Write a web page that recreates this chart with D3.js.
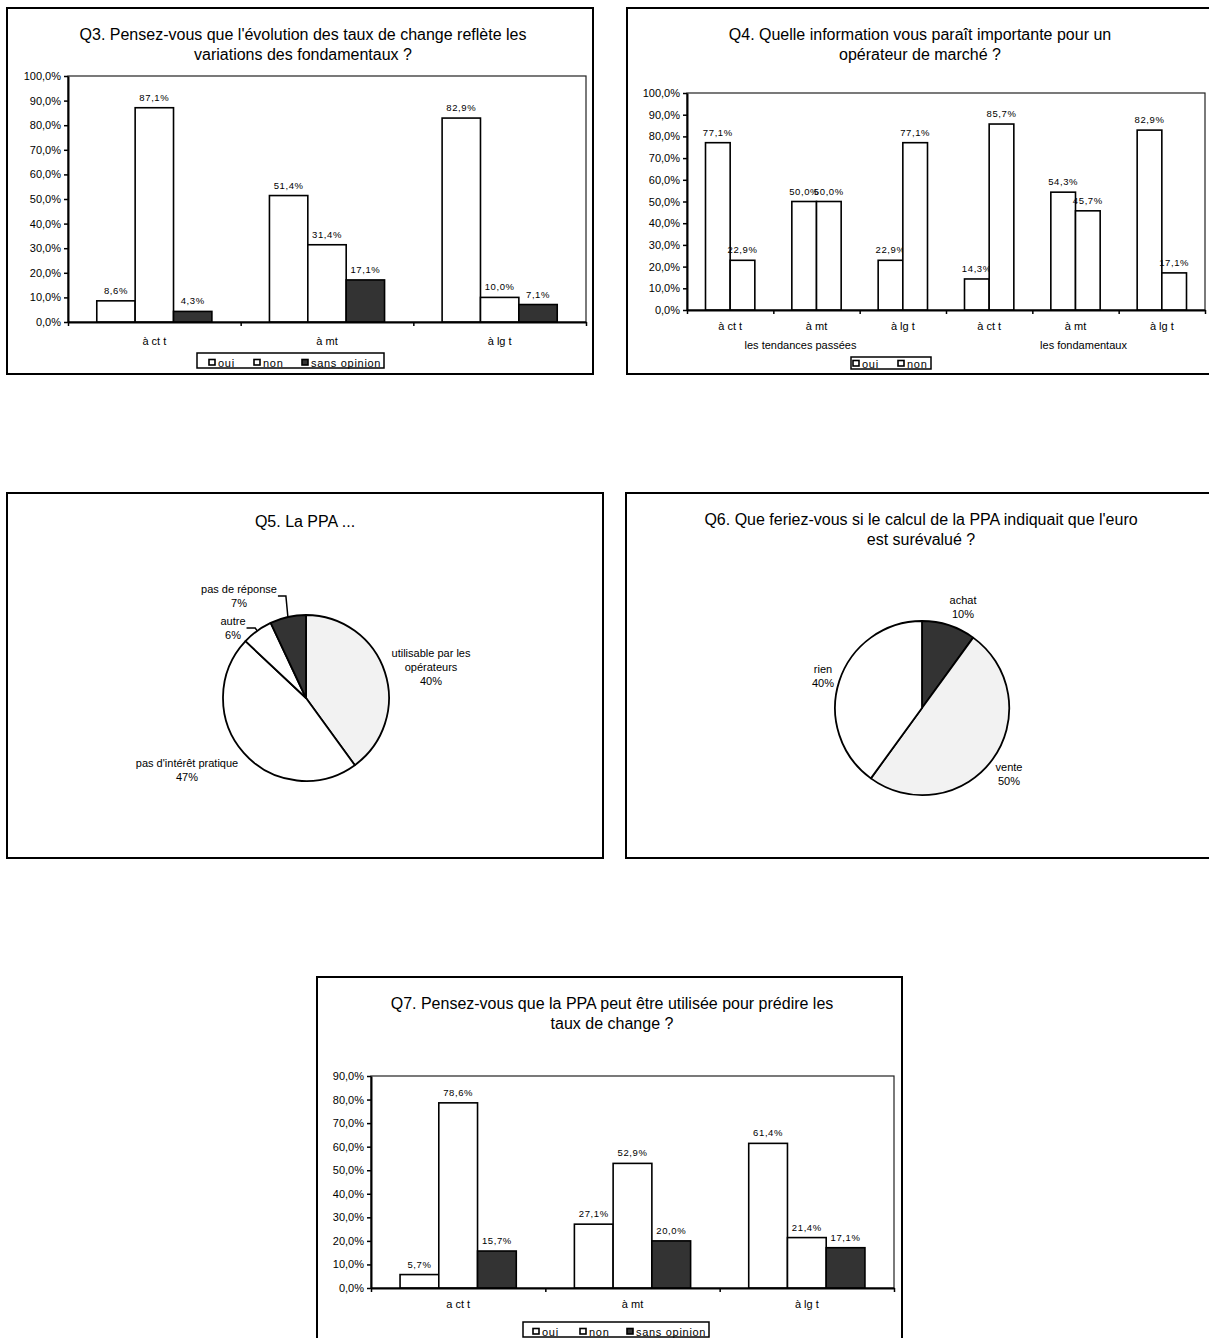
<!DOCTYPE html>
<html>
<head>
<meta charset="utf-8">
<script src="https://cdn.jsdelivr.net/npm/d3@7"></script>
<style>
    body { margin: 0; background: #fff; }
    svg text { font-family: "Liberation Sans", Arial, sans-serif; fill: #000; }
</style>
</head>
<body>
<div id="page"></div>
<script>
// ---------- data ----------
let q3Title = ["Q3. Pensez-vous que l'évolution des taux de change reflète les", "variations des fondamentaux ?"];
let q3Categories = ["à ct t", "à mt", "à lg t"];
let q3Oui = [8.6, 51.4, 82.9];
let q3Non = [87.1, 31.4, 10.0];
let q3Sans = [4.3, 17.1, 7.1];
let q3Ticks = [0, 10, 20, 30, 40, 50, 60, 70, 80, 90, 100];

let q4Title = ["Q4. Quelle information vous paraît importante pour un", "opérateur de marché ?"];
let q4Categories = ["à ct t", "à mt", "à lg t", "à ct t", "à mt", "à lg t"];
let q4Groups = ["les tendances passées", "les fondamentaux"];
let q4Oui = [77.1, 50.0, 22.9, 14.3, 54.3, 82.9];
let q4Non = [22.9, 50.0, 77.1, 85.7, 45.7, 17.1];
let q4Ticks = [0, 10, 20, 30, 40, 50, 60, 70, 80, 90, 100];

let q5Title = ["Q5. La PPA ..."];
let q5Labels = ["utilisable par les\nopérateurs", "pas d'intérêt pratique", "autre", "pas de réponse"];
let q5Values = [40, 47, 6, 7];

let q6Title = ["Q6. Que feriez-vous si le calcul de la PPA indiquait que l'euro", "est surévalué ?"];
let q6Labels = ["achat", "vente", "rien"];
let q6Values = [10, 50, 40];

let q7Title = ["Q7. Pensez-vous que la PPA peut être utilisée pour prédire les", "taux de change ?"];
let q7Categories = ["a ct t", "à mt", "à lg t"];
let q7Oui = [5.7, 27.1, 61.4];
let q7Non = [78.6, 52.9, 21.4];
let q7Sans = [15.7, 20.0, 17.1];
let q7Ticks = [0, 10, 20, 30, 40, 50, 60, 70, 80, 90];

// ---------- styles ----------
let white = "#ffffff";
let light = "#f2f2f2";
let dark = "#333333";

let fr = d3.formatLocale({decimal: ",", thousands: " ", grouping: [3], currency: ["", " €"]});
let pct = d => fr.format(".1f")(d) + "%";

let svg = d3.select("#page")
    .append("svg")
    .attr("width", 1209)
    .attr("height", 1338);

function frameAndTitle(g, c) {
    g.append("rect")
        .attr("x", c.frame.x)
        .attr("y", c.frame.y)
        .attr("width", c.frame.w)
        .attr("height", c.frame.h)
        .attr("fill", "#fff")
        .attr("stroke", "#000")
        .attr("stroke-width", 2);

    c.title.forEach((t, i) => {
        g.append("text")
            .attr("x", c.titleX)
            .attr("y", c.titleY + i * 19.5)
            .attr("text-anchor", "middle")
            .style("font-size", "16px")
            .text(t);
    });
}

function drawBars(c) {
    let g = svg.append("g");
    frameAndTitle(g, c);

    let p = c.plot;
    let n = c.categories.length;

    let y = d3.scaleLinear()
        .domain([0, c.yMax])
        .range([p.y1, p.y0]);

    let x = d3.scaleBand()
        .domain(d3.range(n))
        .range([p.x0, p.x1]);

    // excel style: gap width 150%
    let xs = d3.scaleBand()
        .domain(c.series.map(s => s.name))
        .range([0, x.bandwidth()])
        .paddingOuter(0.75);

    // plot area border
    g.append("rect")
        .attr("x", p.x0)
        .attr("y", p.y0)
        .attr("width", p.x1 - p.x0)
        .attr("height", p.y1 - p.y0)
        .attr("fill", "none")
        .attr("stroke", "#222")
        .attr("stroke-width", 1.2);

    c.series.forEach(s => {
        g.selectAll(null)
            .data(s.values)
            .join("rect")
            .attr("x", (d, i) => x(i) + xs(s.name))
            .attr("y", d => y(d))
            .attr("width", xs.bandwidth())
            .attr("height", d => y(0) - y(d))
            .attr("fill", s.fill)
            .attr("stroke", "#000")
            .attr("stroke-width", 1.6);

        g.selectAll(null)
            .data(s.values)
            .join("text")
            .attr("x", (d, i) => x(i) + xs(s.name) + xs.bandwidth() / 2)
            .attr("y", d => y(d) - 7)
            .attr("text-anchor", "middle")
            .style("font-size", "9.5px")
            .style("letter-spacing", "0.6px")
            .text(d => pct(d));
    });

    // y axis
    let yAxis = g.append("g")
        .attr("transform", "translate(" + p.x0 + ",0)")
        .call(d3.axisLeft(y).tickValues(c.yTicks).tickFormat(pct).tickSize(4).tickSizeOuter(0));
    yAxis.select(".domain").attr("stroke-width", 2);
    yAxis.selectAll(".tick line").attr("stroke-width", 1.5);
    yAxis.selectAll(".tick text").style("font-size", "11px").style("font-family", "Liberation Sans, Arial, sans-serif");

    // x axis: ticks between categories
    let xb = d3.scaleLinear()
        .domain([0, n])
        .range([p.x0, p.x1]);
    let xAxis = g.append("g")
        .attr("transform", "translate(0," + p.y1 + ")")
        .call(d3.axisBottom(xb).tickValues(d3.range(n + 1)).tickFormat("").tickSize(4).tickSizeOuter(0));
    xAxis.select(".domain").attr("stroke-width", 2);
    xAxis.selectAll(".tick line").attr("stroke-width", 1.5);

    g.selectAll(null)
        .data(c.categories)
        .join("text")
        .attr("x", (d, i) => x(i) + x.bandwidth() / 2)
        .attr("y", c.catLabelY)
        .attr("text-anchor", "middle")
        .style("font-size", "11px")
        .text(d => d);

    if (c.groups) {
        let per = n / c.groups.length;
        g.selectAll(null)
            .data(c.groups)
            .join("text")
            .attr("x", (d, i) => xb(i * per + per / 2) + c.groupShift[i])
            .attr("y", c.groupLabelY)
            .attr("text-anchor", "middle")
            .style("font-size", "11px")
            .text(d => d);
    }

    // legend
    let L = c.legend;
    g.append("rect")
        .attr("x", L.x)
        .attr("y", L.y)
        .attr("width", L.w)
        .attr("height", L.h)
        .attr("fill", "#fff")
        .attr("stroke", "#000")
        .attr("stroke-width", 1.5);
    c.series.forEach((s, i) => {
        g.append("rect")
            .attr("x", L.items[i])
            .attr("y", L.y + L.h - 8.5)
            .attr("width", 6)
            .attr("height", 5.5)
            .attr("fill", s.fill)
            .attr("stroke", "#000")
            .attr("stroke-width", 1.6);
        g.append("text")
            .attr("x", L.items[i] + 9)
            .attr("y", L.y + L.h - 1.5)
            .style("font-size", "11px")
            .style("letter-spacing", "0.7px")
            .text(s.name);
    });
}

function drawPie(c) {
    let g = svg.append("g");
    frameAndTitle(g, c);

    let pie = d3.pie().sort(null).value(d => d);
    let arcs = pie(c.values);
    let arc = d3.arc().innerRadius(0).outerRadius(c.r);
    let edge = d3.arc().innerRadius(c.r).outerRadius(c.r);

    let pg = g.append("g").attr("transform", "translate(" + c.cx + "," + c.cy + ")");
    pg.selectAll("path")
        .data(arcs)
        .join("path")
        .attr("d", arc)
        .attr("fill", (d, i) => c.colors[i])
        .attr("stroke", "#000")
        .attr("stroke-width", 1.8)
        .attr("stroke-linejoin", "round");

    arcs.forEach((a, i) => {
        let pos = c.labelPos[i];
        let lines = c.labels[i].split("\n").concat([Math.round(a.data) + "%"]);
        let lg = pg.append("g");
        lines.forEach((t, k) => {
            lg.append("text")
                .attr("x", pos[0])
                .attr("y", pos[1] + k * 14)
                .attr("text-anchor", "middle")
                .style("font-size", "11px")
                .text(t);
        });
        if (c.leaders && c.leaders[i]) {
            let bb = lg.node().getBBox();
            let e = edge.centroid(a);
            let ly = pos[1] + 3;
            let sx = bb.x + bb.width + 1;
            pg.append("path")
                .attr("d", "M" + sx + "," + ly + "H" + (e[0] - 2) + "L" + e[0] + "," + e[1])
                .attr("fill", "none")
                .attr("stroke", "#000")
                .attr("stroke-width", 1.5);
        }
    });
}

// ---------- charts ----------
drawBars({
    frame: {x: 7, y: 8, w: 586, h: 366},
    title: q3Title, titleX: 303, titleY: 40,
    plot: {x0: 68, x1: 586, y0: 76, y1: 322},
    yMax: 100, yTicks: q3Ticks,
    categories: q3Categories,
    series: [
        {name: "oui", values: q3Oui, fill: white},
        {name: "non", values: q3Non, fill: white},
        {name: "sans opinion", values: q3Sans, fill: dark}
    ],
    catLabelY: 345,
    legend: {x: 197, y: 353, w: 187, h: 15, items: [209, 254, 302]}
});

drawBars({
    frame: {x: 627, y: 8, w: 594, h: 366},
    title: q4Title, titleX: 920, titleY: 40,
    plot: {x0: 687, x1: 1205, y0: 93, y1: 310},
    yMax: 100, yTicks: q4Ticks,
    categories: q4Categories,
    groups: q4Groups, groupShift: [-16, 8],
    series: [
        {name: "oui", values: q4Oui, fill: white},
        {name: "non", values: q4Non, fill: white}
    ],
    catLabelY: 330, groupLabelY: 349,
    legend: {x: 851, y: 357, w: 80, h: 12, items: [853, 898]}
});

drawPie({
    frame: {x: 7, y: 493, w: 596, h: 365},
    title: q5Title, titleX: 305, titleY: 527,
    cx: 306, cy: 698, r: 83,
    values: q5Values, labels: q5Labels,
    colors: [light, white, white, dark],
    labelPos: [[125, -41], [-119, 69], [-73, -73], [-67, -105]],
    leaders: [false, false, true, true]
});

drawPie({
    frame: {x: 626, y: 493, w: 595, h: 365},
    title: q6Title, titleX: 921, titleY: 525,
    cx: 922, cy: 708, r: 87,
    values: q6Values, labels: q6Labels,
    colors: [dark, light, white],
    labelPos: [[41, -104], [87, 63], [-99, -35]]
});

drawBars({
    frame: {x: 317, y: 977, w: 585, h: 372},
    title: q7Title, titleX: 612, titleY: 1009,
    plot: {x0: 371, x1: 894, y0: 1076, y1: 1288},
    yMax: 90, yTicks: q7Ticks,
    categories: q7Categories,
    series: [
        {name: "oui", values: q7Oui, fill: white},
        {name: "non", values: q7Non, fill: white},
        {name: "sans opinion", values: q7Sans, fill: dark}
    ],
    catLabelY: 1308,
    legend: {x: 523, y: 1322, w: 186, h: 15, items: [533, 580, 627]}
});
</script>
</body>
</html>
